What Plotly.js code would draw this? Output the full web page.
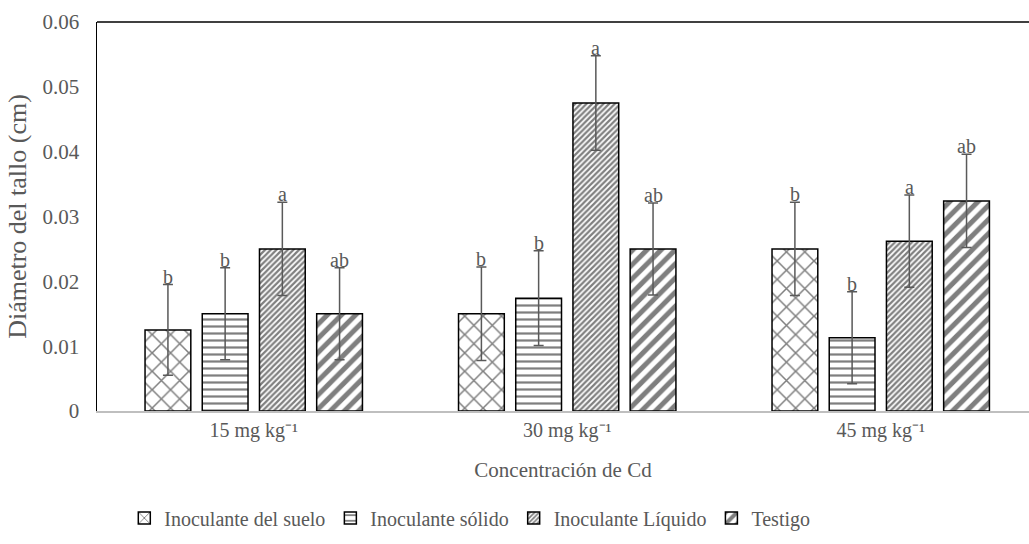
<!DOCTYPE html>
<html>
<head>
<meta charset="utf-8">
<script src="https://cdn.plot.ly/plotly-3.0.1.min.js"></script>
<style>html,body{margin:0;padding:0;background:#fff}</style>
</head>
<body>
<div id="chart" style="width:1029px;height:544px"></div>
<script>
const categories = ["15 mg kg⁻¹", "30 mg kg⁻¹", "45 mg kg⁻¹"];
const seriesNames = ["Inoculante del suelo", "Inoculante sólido", "Inoculante Líquido", "Testigo"];
const suelo   = [0.0125, 0.015, 0.025];
const solido  = [0.015, 0.0174, 0.0113];
const liquido = [0.025, 0.0475, 0.0262];
const testigo = [0.015, 0.025, 0.0324];
const sueloErr   = [0.007, 0.0072, 0.0072];
const solidoErr  = [0.0071, 0.0073, 0.0071];
const liquidoErr = [0.0072, 0.0073, 0.0071];
const testigoErr = [0.0071, 0.0071, 0.0072];
const sueloLetters   = ["b", "b", "b"];
const solidoLetters  = ["b", "b", "b"];
const liquidoLetters = ["a", "a", "a"];
const testigoLetters = ["ab", "ab", "ab"];
const yTickVals = [0, 0.01, 0.02, 0.03, 0.04, 0.05, 0.06];
const yTickText = ["0", "0.01", "0.02", "0.03", "0.04", "0.05", "0.06"];

const font = "Liberation Serif, Times New Roman, serif";
const gray = "#595959";

const values = [suelo, solido, liquido, testigo];
const errs = [sueloErr, solidoErr, liquidoErr, testigoErr];
const letters = [sueloLetters, solidoLetters, liquidoLetters, testigoLetters];
const patterns = [
  {shape: "x", size: 13, solidity: 0.22},
  {shape: "-", size: 7, solidity: 0.32},
  {shape: "/", size: 4, solidity: 0.55},
  {shape: "/", size: 10, solidity: 0.5}
];

const traces = values.map((v, i) => ({
  type: "bar",
  name: seriesNames[i],
  x: categories,
  y: v,
  marker: {
    color: "#ffffff",
    line: {color: "#000000", width: 1.5},
    pattern: Object.assign({fgcolor: "#000000", bgcolor: "#ffffff", fillmode: "overlay"}, patterns[i])
  },
  error_y: {type: "data", array: errs[i], visible: true, color: gray, thickness: 1.5, width: 5}
}));

const annotations = [];
values.forEach((v, i) => {
  v.forEach((val, j) => {
    annotations.push({
      xref: "x", yref: "y",
      x: j + (i - 1.5) * 0.183,
      y: val + errs[i][j],
      text: letters[i][j],
      showarrow: false,
      yanchor: "bottom",
      yshift: -5,
      font: {family: font, size: 20, color: gray}
    });
  });
});

const layout = {
  width: 1029, height: 544,
  margin: {l: 97, r: 0, t: 22, b: 133},
  paper_bgcolor: "#ffffff", plot_bgcolor: "#ffffff",
  barmode: "group",
  bargap: 0.27,
  bargroupgap: 0.2,
  font: {family: font, color: gray, size: 20},
  xaxis: {
    type: "category",
    range: [-0.5, 2.473],
    showline: true, linecolor: "#bfbfbf", linewidth: 1.5,
    ticks: "", showgrid: false, zeroline: false,
    tickfont: {family: font, size: 20, color: gray},
    title: {text: "Concentración de Cd", font: {family: font, size: 21, color: gray}, standoff: 22}
  },
  yaxis: {
    range: [0, 0.06],
    tickvals: yTickVals, ticktext: yTickText,
    showline: true, linecolor: "#000000", linewidth: 1.5,
    ticks: "", showgrid: false, zeroline: false,
    tickfont: {family: font, size: 21, color: gray},
    ticklabelstandoff: 12,
    title: {text: "Diámetro del tallo (cm)", font: {family: font, size: 26, color: gray}, standoff: 8}
  },
  showlegend: true,
  legend: {
    orientation: "h", x: 0.4, xanchor: "center", y: -0.275, yanchor: "middle",
    font: {family: font, size: 20, color: gray},
    itemwidth: 30, traceorder: "normal"
  },
  shapes: [{
    type: "line", xref: "paper", yref: "paper", x0: 0, x1: 1, y0: 1, y1: 1,
    line: {color: "#000000", width: 1.5}
  }],
  annotations: annotations
};

Plotly.newPlot("chart", traces, layout, {displayModeBar: false, staticPlot: true});
</script>
</body>
</html>
